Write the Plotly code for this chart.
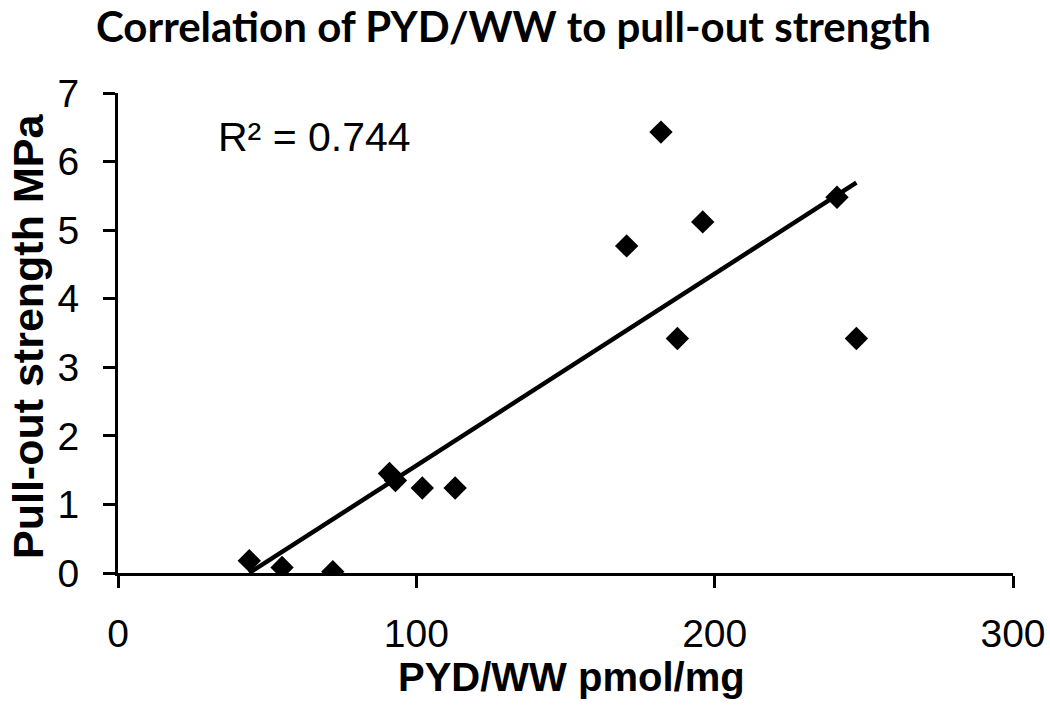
import numpy as np
import plotly.graph_objects as go

pyd_ww = [44, 55, 72, 91, 93, 102, 113, 170.5, 182, 187.5, 196, 241, 247.5]
pull_out = [0.18, 0.08, 0.02, 1.45, 1.35, 1.24, 1.24, 4.77, 6.43, 3.42, 5.12, 5.48, 3.42]

x_ticks = [0, 100, 200, 300]
y_ticks = [0, 1, 2, 3, 4, 5, 6, 7]

chart_title = "Correlation of PYD/WW to pull-out strength"
x_title = "PYD/WW pmol/mg"
y_title = "Pull-out strength MPa"
r2_label = "R² = 0.744"

slope, intercept = np.polyfit(pyd_ww, pull_out, 1)
x_fit = [min(pyd_ww), max(pyd_ww)]
y_fit = [slope * v + intercept for v in x_fit]

W, H = 1050, 707
L, R, T, B = 118, 37, 93, 134
pw, ph = W - L - R, H - T - B

def px_to_paper_x(px):
    return (px - L) / pw

def px_to_paper_y(py):
    return (H - B - py) / ph

ARIAL = "Liberation Sans, Arial"

fig = go.Figure()
fig.add_trace(go.Scatter(x=x_fit, y=y_fit, mode="lines",
                         line=dict(color="black", width=4.5), showlegend=False))
fig.add_trace(go.Scatter(x=pyd_ww, y=pull_out, mode="markers",
                         marker=dict(symbol="diamond", size=18, color="black"),
                         showlegend=False))

fig.add_annotation(x=px_to_paper_x(216), y=px_to_paper_y(137), xref="paper", yref="paper",
                   xanchor="left", yanchor="middle", text=r2_label, showarrow=False,
                   font=dict(family=ARIAL, size=41, color="black"))

fig.add_annotation(x=px_to_paper_x(513), y=px_to_paper_y(26), xref="paper", yref="paper",
                   xanchor="center", yanchor="middle", text="<b>" + chart_title + "</b>",
                   showarrow=False, font=dict(family="Lato", size=42, color="black"))

fig.add_annotation(x=px_to_paper_x(571), y=px_to_paper_y(677), xref="paper", yref="paper",
                   xanchor="center", yanchor="middle", text="<b>" + x_title + "</b>",
                   showarrow=False, font=dict(family=ARIAL, size=40, color="black"))

fig.add_annotation(x=px_to_paper_x(28), y=px_to_paper_y(337), xref="paper", yref="paper",
                   xanchor="center", yanchor="middle", text="<b>" + y_title + "</b>",
                   textangle=-90, showarrow=False,
                   font=dict(family=ARIAL, size=43, color="black"))

axis_common = dict(showgrid=False, zeroline=False, automargin=False,
                   showline=True, linecolor="black", linewidth=3,
                   ticks="outside", ticklen=12, tickwidth=3, tickcolor="black",
                   tickfont=dict(family=ARIAL, size=39, color="black"))

fig.update_layout(
    width=W, height=H,
    paper_bgcolor="white", plot_bgcolor="white",
    margin=dict(l=L, r=R, t=T, b=B),
    xaxis=dict(range=[0, 300], tickvals=x_ticks, ticklabelstandoff=12, **axis_common),
    yaxis=dict(range=[0, 7], tickvals=y_ticks, ticklabelstandoff=16, **axis_common),
)

fig.write_html("out.html", config={"displayModeBar": False},
               post_script="document.body.style.margin='0';")
